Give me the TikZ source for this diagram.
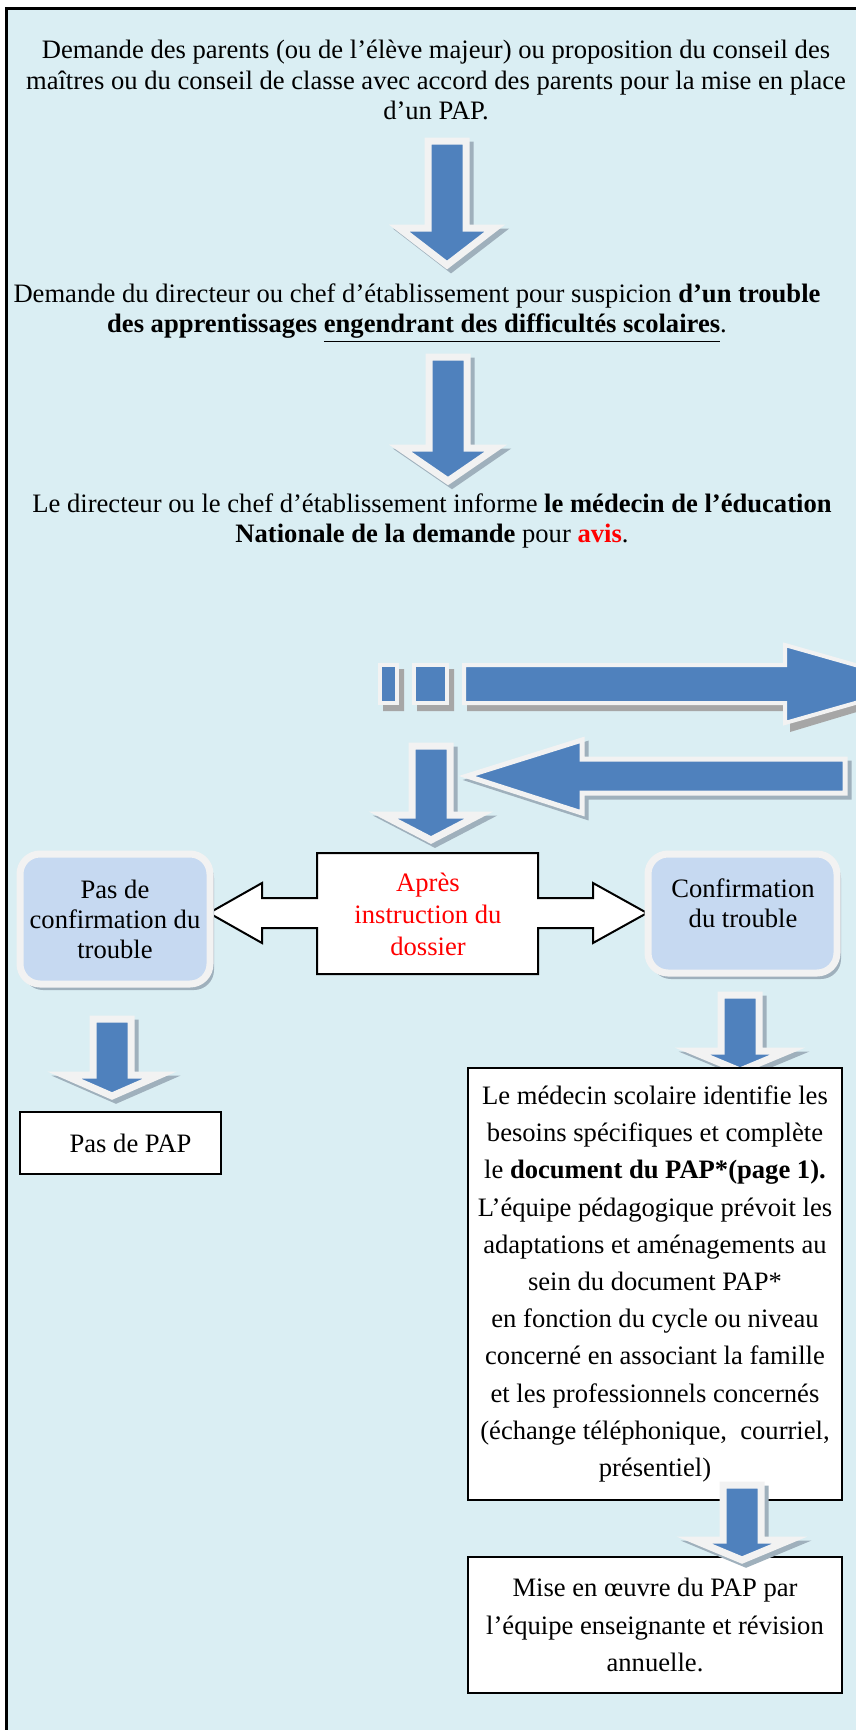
\documentclass[tikz,border=0pt]{standalone}
\usepackage{fontspec}
\setmainfont{Liberation Serif}
\definecolor{bgblue}{HTML}{DAEEF3}
\definecolor{arrowblue}{HTML}{4F81BD}
\definecolor{outwhite}{HTML}{F2F2F2}
\definecolor{boxblue}{HTML}{C6D9F1}
\definecolor{shadowgray}{HTML}{A6A6A6}
\definecolor{hatchgray}{HTML}{9FB0BC}
\begin{document}
\begin{tikzpicture}[x=0.5pt, y=-0.5pt,
  txt/.style={align=center, inner sep=0pt, font=\fontsize{13.3}{15.2}\selectfont},
  whitebox/.style={draw=black, line width=1pt, fill=white, inner sep=0pt},
  softbox/.style={draw=outwhite, fill=boxblue, line width=3.5pt, rounded corners=10pt, inner sep=0pt, align=center, font=\fontsize{13.3}{15}\selectfont},
  bluearrow/.style={fill=arrowblue, draw=outwhite, line width=3.5pt, line join=miter},
  arrowshadow/.style={fill=hatchgray, draw=hatchgray, line width=3.5pt, shift={(4,4)}}]
  \useasboundingbox (0,0) rectangle (856,1730);
  \clip (0,0) rectangle (856,1730);

  % Page frame
  \fill[white] (0,0) rectangle (856,1730);
  \fill[bgblue] (6.7,8.3) rectangle (870,1740);
  \draw[line width=1.25pt] (6.7,1740) -- (6.7,8.3) -- (870,8.3);

  % Steps of the request
  \node[txt] (req) at (436,80) {Demande des parents (ou de l’élève majeur) ou proposition du conseil des\\maîtres ou du conseil de classe avec accord des parents pour la mise en place\\d’un PAP.};
  \node[txt] (suspicion) at (417,313) {Demande du directeur ou chef d’établissement pour suspicion \textbf{d’un trouble}\\\textbf{des apprentissages \underline{engendrant des difficultés scolaires}}.};
  \node[txt] (informe) at (432,521) {Le directeur ou le chef d’établissement informe \textbf{le médecin de l’éducation}\\\textbf{Nationale de la demande} pour \textcolor{red}{\textbf{avis}}.};

  % Down block arrows
  \foreach \ax/\ya/\yb/\yc in {447/141/228/265, 448/357/448/481, 431/746/815/840, 112/1019/1075/1096, 740/995/1051/1071} {
    \path[arrowshadow] ({\ax-19},\ya) -- ({\ax+19},\ya) -- ({\ax+19},\yb) -- ({\ax+48},\yb) -- (\ax,\yc) -- ({\ax-48},\yb) -- ({\ax-19},\yb) -- cycle;
    \path[bluearrow] ({\ax-19},\ya) -- ({\ax+19},\ya) -- ({\ax+19},\yb) -- ({\ax+48},\yb) -- (\ax,\yc) -- ({\ax-48},\yb) -- ({\ax-19},\yb) -- cycle;
  }

  % Arrow to the doctor and back
  \begin{scope}[shift={(5,6)}]
    \fill[shadowgray] (378,663) rectangle (399,705) (412,663) rectangle (449,705);
    \fill[shadowgray] (462,663) -- (785,663) -- (785,642) -- (925,684) -- (785,726) -- (785,705) -- (462,705) -- cycle;
  \end{scope}
  \path[bluearrow, line width=2pt] (380,665) rectangle (397,703) (414,665) rectangle (447,703);
  \path[bluearrow, line width=2pt] (464,665) -- (785,665) -- (785,645) -- (922,684) -- (785,723) -- (785,703) -- (464,703) -- cycle;
  \path[arrowshadow, line width=2.5pt] (845,759) -- (582,759) -- (582,740) -- (467,776) -- (582,813) -- (582,793) -- (845,793) -- cycle;
  \path[bluearrow, line width=2.5pt] (845,759) -- (582,759) -- (582,740) -- (467,776) -- (582,813) -- (582,793) -- (845,793) -- cycle;

  % Decision
  \draw[fill=white, line width=1pt] (317,853) -- (538,853) -- (538,898) -- (593,898) -- (593,883) -- (647,913) -- (593,943) -- (593,928) -- (538,928) -- (538,974) -- (317,974) -- (317,928) -- (262,928) -- (262,943) -- (209,913) -- (262,883) -- (262,898) -- (317,898) -- cycle;
  \node[txt, red, font=\fontsize{13.3}{16}\selectfont] (apres) at (428,914) {Après\\instruction du\\dossier};

  \fill[hatchgray, rounded corners=10pt] (23,858) rectangle (214,990);
  \node[softbox, minimum width=95pt, minimum height=65pt] (nonconf) at (115,919) {Pas de\\confirmation du\\trouble};
  \fill[hatchgray, rounded corners=10pt] (651,858) rectangle (841,979);
  \draw[draw=outwhite, fill=boxblue, line width=3.5pt, rounded corners=10pt] (648,854) rectangle (837,973);
  \node[txt, font=\fontsize{13.3}{15}\selectfont] (conf) at (743,903) {Confirmation\\du trouble};

  % Outcomes
  \node[whitebox, minimum width=100.5pt, minimum height=31pt, font=\fontsize{13.3}{15}\selectfont] (paspap) at (120.5,1143) {\hspace{10pt}Pas de PAP};
  \node[whitebox, minimum width=187pt, minimum height=216pt, align=center, font=\fontsize{13.3}{18.6}\selectfont] (besoins) at (655,1284) {Le médecin scolaire identifie les\\besoins spécifiques et complète\\le \textbf{document du PAP*(page 1).}\\L’équipe pédagogique prévoit les\\adaptations et aménagements au\\sein du document PAP*\\en fonction du cycle ou niveau\\concerné en associant la famille\\et les professionnels concernés\\(échange téléphonique,\ \ courriel,\\présentiel)};
  \node[whitebox, minimum width=187pt, minimum height=68pt, align=center, font=\fontsize{13.3}{18.7}\selectfont] (miseoeuvre) at (655,1625) {Mise en œuvre du PAP par\\l’équipe enseignante et révision\\annuelle.};

  % Last arrow sits over the box border
  \path[arrowshadow] (723,1485) -- (761,1485) -- (761,1540) -- (790,1540) -- (742,1560) -- (694,1540) -- (723,1540) -- cycle;
  \path[bluearrow] (723,1485) -- (761,1485) -- (761,1540) -- (790,1540) -- (742,1560) -- (694,1540) -- (723,1540) -- cycle;
\end{tikzpicture}
\end{document}
